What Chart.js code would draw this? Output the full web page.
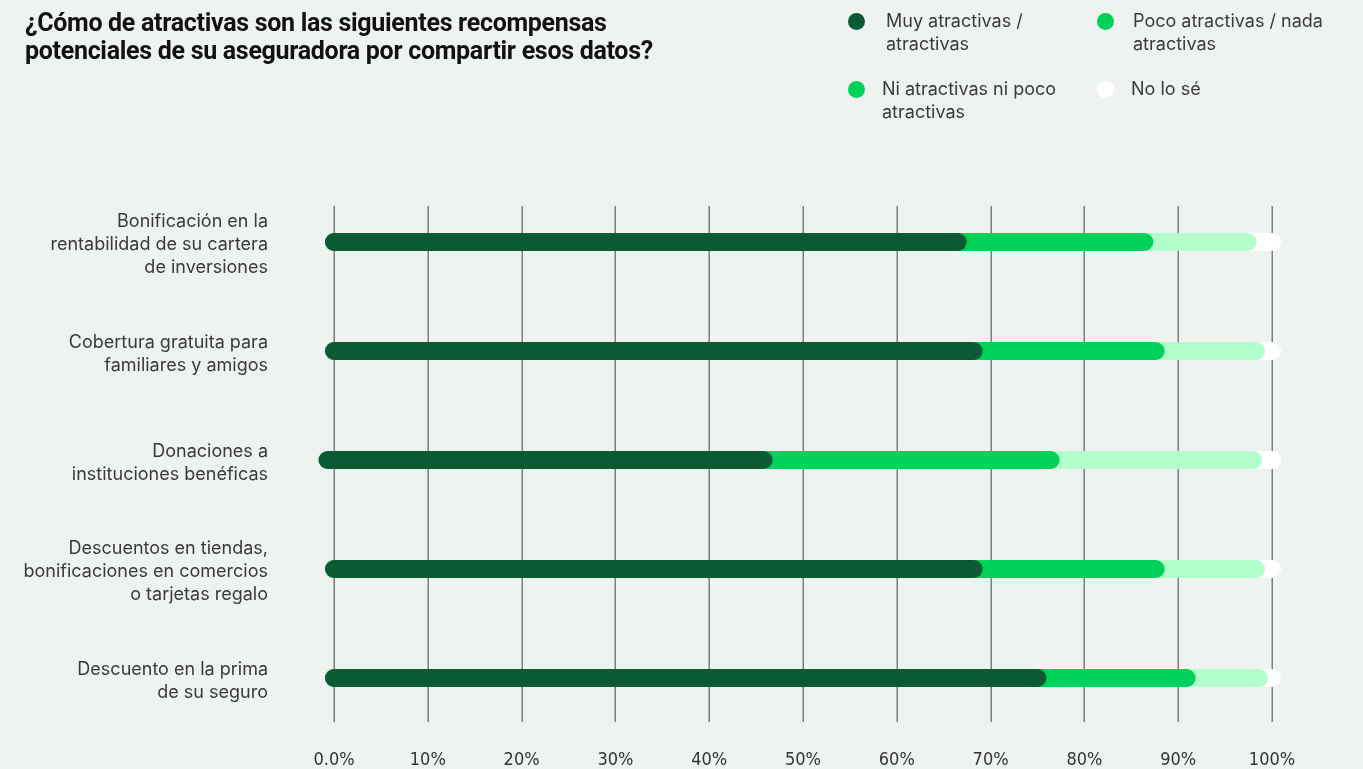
<!DOCTYPE html>
<html>
<head>
<meta charset="utf-8">
<script src="https://cdn.jsdelivr.net/npm/chart.js@4/dist/chart.umd.min.js"></script>
<style>
  html, body { margin: 0; padding: 0; background: #eef3ef; }
  #wrap { position: relative; width: 1363px; height: 769px; overflow: hidden; }
  #c { position: absolute; left: 0; top: 0; }
  #title { position: absolute; left: 25px; top: 9px; font-family: Roboto, "Liberation Sans", sans-serif; font-weight: 700; font-size: 25px; line-height: 28px; color: #111; letter-spacing: -0.3px; }
  .lg { position: absolute; font-family: Inter, Lato, sans-serif; font-size: 18px; line-height: 23px; color: #3a3a3a; }
  .dot { position: absolute; width: 17px; height: 17px; border-radius: 50%; }
</style>
</head>
<body>
<div id="wrap">
  <canvas id="c" width="1363" height="769"></canvas>
  <div id="title">¿Cómo de atractivas son las siguientes recompensas<br>potenciales de su aseguradora por compartir esos datos?</div>
  <div id="legend"></div>
</div>
<script>
// ---- data ----
const categories = [
  ["Bonificación en la", "rentabilidad de su cartera", "de inversiones"],
  ["Cobertura gratuita para", "familiares y amigos"],
  ["Donaciones a", "instituciones benéficas"],
  ["Descuentos en tiendas,", "bonificaciones en comercios", "o tarjetas regalo"],
  ["Descuento en la prima", "de su seguro"]
];
// cumulative positions (%)
const barStart   = [0, 0, -0.7, 0, 0];
const muyCum     = [66.5, 68.2, 45.8, 68.2, 75.0];
const niCum      = [86.4, 87.6, 76.4, 87.6, 90.9];
const pocoCum    = [97.4, 98.3, 98.0, 98.3, 98.6];
const noSeCum    = [100, 100, 100, 100, 100];
const tickLabels = ["0.0%", "10%", "20%", "30%", "40%", "50%", "60%", "70%", "80%", "90%", "100%"];
const legendLabels = [
  ["Muy atractivas /", "atractivas"],
  ["Poco atractivas / nada", "atractivas"],
  ["Ni atractivas ni poco", "atractivas"],
  ["No lo sé"]
];
const legendColors = ["#0b5a33", "#00d15a", "#00d15a", "#ffffff"];

// ---- legend (HTML) ----
const legendPos = [
  {dx: 848, dy: 13, tx: 886, ty: 9},
  {dx: 1097, dy: 13, tx: 1133, ty: 9},
  {dx: 848, dy: 81, tx: 882, ty: 77},
  {dx: 1097, dy: 81, tx: 1131, ty: 77}
];
const lg = document.getElementById('legend');
legendLabels.forEach((lines, i) => {
  const d = document.createElement('div');
  d.className = 'dot';
  d.style.left = legendPos[i].dx + 'px';
  d.style.top = legendPos[i].dy + 'px';
  d.style.background = legendColors[i];
  lg.appendChild(d);
  const t = document.createElement('div');
  t.className = 'lg';
  t.style.left = legendPos[i].tx + 'px';
  t.style.top = legendPos[i].ty + 'px';
  t.innerHTML = lines.join('<br>');
  lg.appendChild(t);
});

// ---- plugins ----
const capPlugin = {
  id: 'caps',
  afterDatasetsUpdate(chart) {
    chart.data.datasets.forEach((ds, i) => {
      const meta = chart.getDatasetMeta(i);
      meta.data.forEach(el => {
        const r = el.height / 2;
        el.x += r;
        el.base -= r;
      });
    });
  }
};
const gridPlugin = {
  id: 'vgrid',
  beforeDatasetsDraw(chart) {
    const {ctx, chartArea, scales} = chart;
    const xs = scales.x;
    ctx.save();
    ctx.strokeStyle = '#7d7d7d';
    ctx.lineWidth = 1.5;
    xs.ticks.forEach(t => {
      const px = Math.round(xs.getPixelForValue(t.value)) + 0.25;
      ctx.beginPath();
      ctx.moveTo(px, chartArea.top + 18.5);
      ctx.lineTo(px, chartArea.bottom - 10.5);
      ctx.stroke();
    });
    ctx.restore();
  }
};

const mk = (label, vals, color, starts) => ({
  label,
  data: starts ? vals.map((v, i) => [starts[i], v]) : vals,
  backgroundColor: color,
  barThickness: 18,
  borderRadius: 9,
  borderSkipped: false,
  inflateAmount: 0,
  clip: false
});

new Chart(document.getElementById('c'), {
  type: 'bar',
  data: {
    labels: categories,
    datasets: [
      mk('Muy atractivas / atractivas', muyCum, '#0b5a33', barStart),
      mk('Ni atractivas ni poco atractivas', niCum, '#00d15a'),
      mk('Poco atractivas / nada atractivas', pocoCum, '#b3ffcc'),
      mk('No lo sé', noSeCum, '#ffffff')
    ]
  },
  options: {
    indexAxis: 'y',
    responsive: false,
    animation: false,
    events: [],
    layout: { padding: { left: 0, right: 91, top: 187.5, bottom: 0 } },
    plugins: { legend: { display: false }, tooltip: { enabled: false } },
    scales: {
      x: {
        min: 0, max: 100,
        stacked: false,
        border: { display: false },
        grid: { display: false, drawTicks: false },
        ticks: {
          stepSize: 10,
          padding: 17,
          color: '#333333',
          font: { family: '"Liberation Sans Narrow", "DejaVu Sans Condensed", sans-serif', size: 18 },
          callback: (v, i) => tickLabels[i]
        },
        afterFit(s) { s.height = 36.5; s.paddingLeft = 0; s.paddingRight = 0; }
      },
      y: {
        stacked: true,
        border: { display: false },
        grid: { display: false, drawTicks: false },
        ticks: {
          padding: 66,
          labelOffset: 3,
          color: '#3a3a3a',
          font: { family: 'Inter, Lato, sans-serif', size: 18, lineHeight: 1.28 }
        },
        afterFit(s) { s.width = 334; s.paddingTop = 0; s.paddingBottom = 0; }
      }
    }
  },
  plugins: [gridPlugin, capPlugin]
});
</script>
</body>
</html>
